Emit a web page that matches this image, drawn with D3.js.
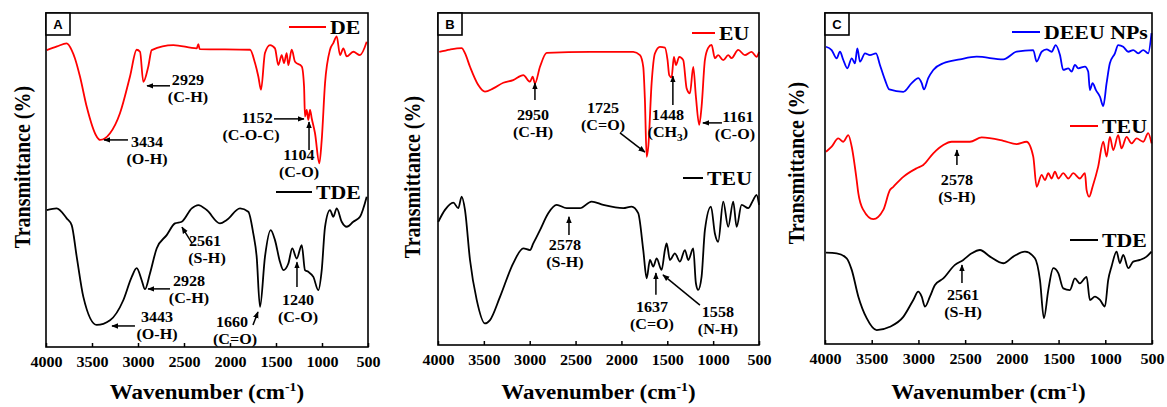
<!DOCTYPE html>
<meta charset="utf-8">
<style>
body { margin: 0; background: #fff; }
svg text { font-family: "Liberation Serif", "Times New Roman", serif; font-weight: bold; fill: #000; }
.letter { font-family: "Liberation Sans", Arial, sans-serif; }
</style>
<body>
<svg width="1167" height="407"></svg>
</body>
<script src="https://d3js.org/d3.v7.min.js"></script>
<script>

// spectra: [wavenumber cm-1, relative transmittance]
var deA = [[3992,88.9],[3880,90],[3775,90.9],[3721,88.9],[3685,86.4],[3630,80.9],[3558,72],[3449,63],[3413,62],[3304,64],[3196,70],[3087,81],[3014,89],[2978,88.4],[2942,79.4],[2888,84],[2851,88.9],[2616,90.4],[2362,89.4],[2344,90.7],[2330,89.2],[1782,89],[1728,85],[1692,81],[1663,77],[1620,88],[1565,90.4],[1511,89.4],[1475,84.4],[1438,87.4],[1413,85],[1384,88],[1366,84.4],[1329,89],[1293,85.4],[1220,84],[1195,78],[1185,69],[1166,71],[1149,68],[1130,71],[1112,68.5],[1076,64],[1029,55],[1003,62],[967,79],[913,89],[877,91],[840,93],[804,87.4],[768,89.4],[731,87],[660,88.4],[587,87.4],[514,91.4]];
var tdeA = [[3992,41],[3884,41.5],[3775,38.5],[3721,36.5],[3666,27],[3594,15],[3449,6.6],[3304,8],[3160,14],[3068,21],[3014,23.6],[2960,20],[2924,17.3],[2870,22],[2797,29.5],[2688,33.5],[2598,37],[2525,37.5],[2416,41.5],[2344,42.5],[2253,41],[2109,37],[2036,38],[1891,41.5],[1801,40.5],[1747,34],[1710,27],[1674,12],[1620,27],[1558,35],[1511,32],[1457,25.5],[1420,23],[1366,25],[1323,29.5],[1275,26.5],[1220,30.5],[1185,23],[1149,22.5],[1094,21],[1040,17],[1003,23],[967,36],[913,41],[877,39],[840,41.5],[786,37.5],[731,36],[660,37.5],[587,39],[514,45]];
var euB = [[3986,88.3],[3869,89],[3742,89.4],[3706,87.9],[3651,83.8],[3561,78.3],[3488,76.3],[3397,77.3],[3288,79],[3180,79.8],[3070,81.3],[2997,79.3],[2968,80.8],[2943,78.8],[2888,83.8],[2815,88],[2343,88.3],[1871,88.3],[1798,87.3],[1762,83.8],[1744,73.8],[1725,56.7],[1707,59.8],[1671,78.8],[1635,87.8],[1580,89.8],[1526,89.6],[1497,85.8],[1479,81.3],[1453,80.6],[1428,86.8],[1406,84.3],[1370,86.8],[1326,85.8],[1289,77.3],[1253,75.8],[1217,83.8],[1188,74.8],[1152,66.3],[1126,71.8],[1090,85.8],[1054,89.5],[1017,90.4],[981,86.4],[945,87.3],[890,85.8],[836,87.3],[799,86.4],[727,88.9],[654,87.3],[581,88.3],[527,86.8],[499,88.3]];
var teuB = [[3997,37.1],[3924,40.7],[3833,42.9],[3779,41.2],[3742,44.7],[3706,40.7],[3651,25.6],[3578,13.6],[3488,6.5],[3433,7.5],[3324,14.5],[3180,24.6],[3070,29.1],[2997,28.6],[2961,30.6],[2888,34.6],[2798,39.7],[2706,42.2],[2597,41.2],[2452,41.2],[2325,43.2],[2198,42.2],[1980,41.2],[1889,41.7],[1817,39.7],[1762,28.6],[1725,20.1],[1689,25.6],[1653,23.6],[1616,26.1],[1562,22.6],[1526,28.6],[1507,30.6],[1471,25.6],[1417,27.6],[1362,25.1],[1308,28.6],[1271,25.6],[1217,29.1],[1188,18.6],[1163,16.6],[1126,20.6],[1090,34.6],[1024,41.7],[981,33.6],[945,31.1],[890,43.2],[836,35.6],[781,43.2],[744,35.6],[690,42.2],[618,41.2],[563,43.7],[527,45.2],[499,42.2]];
var deeuC = [[3989,89.8],[3929,88.8],[3875,86.3],[3840,88.3],[3804,85.8],[3761,83.3],[3714,86.3],[3679,84.8],[3654,89.3],[3625,85.3],[3572,87.8],[3519,87.3],[3454,87.8],[3412,84.3],[3358,79.8],[3312,76.9],[3162,76.2],[3072,78.8],[3002,80.3],[2965,78.8],[2941,76.9],[2895,80.3],[2841,82.8],[2734,84.8],[2555,86],[2377,86.8],[2092,86],[1949,88.3],[1771,88.8],[1735,85.3],[1681,88.3],[1628,89],[1574,88.3],[1531,90.3],[1485,87.3],[1450,82.8],[1396,83.3],[1360,82.3],[1325,84.3],[1289,83.3],[1218,83.8],[1183,82.3],[1165,76.7],[1136,78.8],[1100,76.7],[1057,74.7],[1022,71.9],[986,78.8],[951,84.8],[897,87.8],[862,90.3],[808,89.8],[754,88.3],[701,88.8],[647,87.8],[594,88.8],[541,87.8],[505,93.9]];
var teuC = [[3989,58.1],[3929,59.6],[3858,62.1],[3804,61.1],[3751,63.1],[3714,59.6],[3661,49.5],[3643,45.5],[3590,40.5],[3483,37.7],[3376,40.5],[3305,46.5],[3269,47.5],[3162,50.5],[3019,53.1],[2948,54.1],[2841,57.6],[2734,60.1],[2644,61.1],[2449,61.1],[2323,62.4],[2092,61.4],[1949,60.4],[1842,61.1],[1771,56.6],[1735,47.5],[1681,51.1],[1646,49.5],[1610,51.6],[1574,50],[1539,52.1],[1503,50],[1450,51.6],[1396,50],[1343,51.6],[1272,50],[1218,51.6],[1200,46.5],[1172,44.5],[1136,47.5],[1076,53.6],[1022,61.1],[986,56.6],[951,62.6],[915,58.6],[862,63.1],[826,59.1],[772,62.6],[719,60.6],[665,62.1],[594,61.1],[541,63.7],[505,60.6]];
var tdeC = [[3989,27.6],[3875,27.4],[3768,25.9],[3714,22.4],[3643,14.3],[3554,7.8],[3447,4.2],[3305,5.2],[3162,8.2],[3055,13.3],[3002,15.8],[2965,14.3],[2930,11.3],[2877,14.3],[2823,17.8],[2734,19.8],[2609,23.9],[2520,25.4],[2430,27.4],[2341,28.4],[2234,26.4],[2092,24.4],[1985,26.4],[1860,27.9],[1753,25.9],[1699,19.3],[1657,7.8],[1610,16.3],[1557,22.9],[1503,21.4],[1450,16.8],[1379,16.3],[1325,19.8],[1272,18.3],[1200,20.3],[1165,13.3],[1111,14.3],[1057,13.3],[1004,11.3],[969,19.3],[933,23.4],[879,27.9],[844,24.4],[808,26.9],[754,22.9],[701,24.9],[629,25.4],[558,26.4],[505,27.9]];

var xTicks = [4000, 3500, 3000, 2500, 2000, 1500, 1000, 500];

// peak labels: [label, sub, wn, value, arrow from [wn,val], arrow to [wn,val], sub dx]
var notesA = [
  ["2929", "(C-H)", 2457, 79.9, [2652, 78.2], [2902, 78.2], 0],
  ["3434", "(O-H)", 2902, 61.4, [3109, 62], [3370, 62], 0],
  ["1152", "(C-O-C)", 1706, 68.6, [1522, 68.3], [1196, 68.3], -6],
  ["1104", "(C-O)", 1250, 57.5, [1141, 59], [1141, 67.4], 0],
  ["2561", "(S-H)", 2272, 31.7, [2413, 31.1], [2522, 35.9], 2],
  ["2928", "(C-H)", 2446, 19.8, [2652, 17.4], [2891, 17.4], 0],
  ["3443", "(O-H)", 2793, 9.0, [3033, 6.3], [3283, 6.3], 0],
  ["1660", "(C=O)", 1978, 7.5, [1750, 6.6], [1696, 10.5], 3],
  ["1240", "(C-O)", 1261, 14.1, [1272, 18], [1272, 25.4], 0]
];
var notesB = [
  ["2950", "(C-H)", 2964, 69.3, [2943, 73.8], [2943, 78.9], 0],
  ["1725", "(C=O)", 2201, 71.4, [2016, 63.9], [1744, 58.1], 0],
  ["1448", "(CH3)", 1493, 69.3, [1439, 72.3], [1439, 81.0], 0],
  ["1161", "(C-O)", 730, 68.7, [904, 66.9], [1112, 66.9], -3],
  ["2578", "(S-H)", 2616, 30.1, [2572, 33.1], [2572, 38.6], 0],
  ["1637", "(C=O)", 1667, 11.4, [1624, 15.1], [1624, 21.7], 0],
  ["1558", "(N-H)", 948, 9.9, [1144, 12.0], [1547, 21.1], 0]
];
var notesC = [
  ["2578", "(S-H)", 2588, 49.5, [2588, 54.1], [2588, 58.6], 0],
  ["2561", "(S-H)", 2523, 14.8, [2534, 18.4], [2534, 23.9], 0]
];

var panels = [
  {letter: "A", left: 46, right: 368, top: 13, bottom: 347, ylab: [30, 167], notes: notesA,
   series: [{name: "DE", data: deA, color: "#ff0000", lx: 79, ly: 27, len: 37},
            {name: "TDE", data: tdeA, color: "#000", lx: 92, ly: 192, len: 36}]},
  {letter: "B", left: 438, right: 759, top: 13, bottom: 345, ylab: [420, 177], notes: notesB,
   series: [{name: "EU", data: euB, color: "#ff0000", lx: 67, ly: 33, len: 23},
            {name: "TEU", data: teuB, color: "#000", lx: 76, ly: 178, len: 20}]},
  {letter: "C", left: 825, right: 1152, top: 13, bottom: 344, ylab: [804, 163], notes: notesC,
   series: [{name: "DEEU NPs", data: deeuC, color: "#0000ff", lx: 140, ly: 32, len: 28},
            {name: "TEU", data: teuC, color: "#ff0000", lx: 82, ly: 126, len: 28},
            {name: "TDE", data: tdeC, color: "#000", lx: 82, ly: 240, len: 28}]}
];

var svg = d3.select("svg");
var SX = 1.15; // source figure is slightly stretched horizontally

svg.append("defs").append("marker")
    .attr("id", "arr")
    .attr("viewBox", "0 0 10 10")
    .attr("refX", 9).attr("refY", 5)
    .attr("markerWidth", 7).attr("markerHeight", 7)
    .attr("markerUnits", "userSpaceOnUse")
    .attr("orient", "auto")
  .append("path").attr("d", "M0,1L10,5L0,9Z").attr("fill", "#000");

function txt(g, x, y, s, size, anchor) {
  return g.append("text")
      .attr("transform", "translate(" + x + "," + y + ") scale(" + SX + ",1)")
      .attr("text-anchor", anchor || "middle")
      .style("font-size", size + "px")
      .text(s);
}

panels.forEach(function(p) {
  var x = d3.scaleLinear().domain([4000, 500]).range([p.left, p.right]);
  var y = d3.scaleLinear().domain([0, 100]).range([p.bottom, p.top]);
  var line = d3.line()
      .x(function(d) { return x(d[0]); })
      .y(function(d) { return y(d[1]); })
      .curve(d3.curveMonotoneX);

  var g = svg.append("g");

  p.series.forEach(function(s) {
    g.append("path")
        .datum(s.data)
        .attr("fill", "none")
        .attr("stroke", s.color)
        .attr("stroke-width", 1.8)
        .attr("stroke-linejoin", "round")
        .attr("d", line);
    g.append("line")
        .attr("x1", p.right - s.lx).attr("x2", p.right - s.lx + s.len)
        .attr("y1", s.ly).attr("y2", s.ly)
        .attr("stroke", s.color).attr("stroke-width", 2);
    txt(g, p.right - s.lx + s.len + 4, s.ly + 7, s.name, 19, "start");
  });

  var ax = g.append("g")
      .attr("transform", "translate(0," + p.bottom + ")")
      .call(d3.axisBottom(x).tickValues(xTicks).tickSize(-4).tickPadding(10).tickFormat(d3.format("d")));
  ax.select(".domain").remove();
  ax.selectAll(".tick line").attr("stroke-width", 1.5);
  ax.selectAll(".tick text")
      .attr("transform", "scale(" + SX + ",1)")
      .style("font-size", "14px")
      .style("font-family", "'Liberation Serif', 'Times New Roman', serif")
      .style("font-weight", "bold");

  g.append("rect")
      .attr("x", p.left).attr("y", p.top)
      .attr("width", p.right - p.left).attr("height", p.bottom - p.top)
      .attr("fill", "none").attr("stroke", "#000").attr("stroke-width", 1.6);

  g.append("rect")
      .attr("x", p.left).attr("y", p.top)
      .attr("width", 24).attr("height", 22)
      .attr("fill", "#fff").attr("stroke", "#000").attr("stroke-width", 1.6);
  g.append("text").attr("class", "letter")
      .attr("x", p.left + 12).attr("y", p.top + 16)
      .attr("text-anchor", "middle")
      .style("font-size", "13px")
      .text(p.letter);

  // axis titles
  var xt = txt(g, (p.left + p.right) / 2, 399, "Wavenumber (cm", 20);
  xt.append("tspan").attr("dy", -8).style("font-size", "12px").text("-1");
  xt.append("tspan").attr("dy", 8).text(")");

  g.append("text")
      .attr("transform", "translate(" + p.ylab[0] + "," + p.ylab[1] + ") scale(" + SX + ",1) rotate(-90)")
      .attr("text-anchor", "middle")
      .style("font-size", "20px")
      .text("Transmittance (%)");

  // peak annotations
  p.notes.forEach(function(n) {
    var cx = x(n[2]), cy = y(n[3]);
    txt(g, cx, cy + 5, n[0], 14);
    if (n[1] === "(CH3)") {
      var t = txt(g, cx + n[6], cy + 22, "(CH", 14);
      t.append("tspan").attr("dy", 4).style("font-size", "10px").text("3");
      t.append("tspan").attr("dy", -4).text(")");
    } else {
      txt(g, cx + n[6], cy + 22, n[1], 14);
    }
    g.append("line")
        .attr("x1", x(n[4][0])).attr("y1", y(n[4][1]))
        .attr("x2", x(n[5][0])).attr("y2", y(n[5][1]))
        .attr("stroke", "#000").attr("stroke-width", 1.5)
        .attr("marker-end", "url(#arr)");
  });
});
</script>
